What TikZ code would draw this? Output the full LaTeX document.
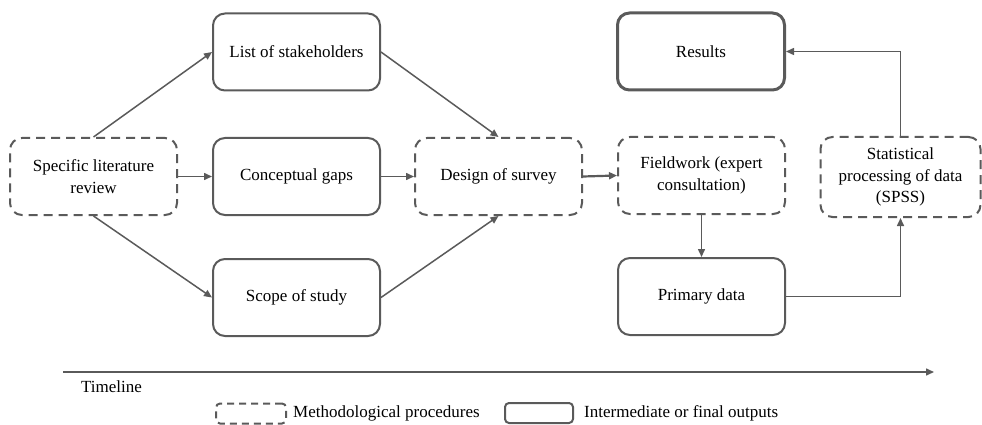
\documentclass[tikz,border=0pt]{standalone}
\usepackage{fontspec}
\setmainfont{Liberation Serif}
\usetikzlibrary{arrows.meta}
\definecolor{lc}{HTML}{5A5A5A}
\begin{document}
\begin{tikzpicture}[x=1pt,y=-1pt,
  font=\rmfamily\fontsize{17}{21.5}\selectfont,
  box/.style={draw=lc, line width=2pt, rounded corners=12pt, minimum width=167pt,
    minimum height=77pt, align=center, inner sep=2pt, text=black,
    font=\rmfamily\fontsize{17}{21.5}\selectfont},
  proc/.style={box, dash pattern=on 9pt off 6pt},
  outbox/.style={box},
  conn/.style={draw=lc, line width=1.5pt, -{Triangle[length=8pt,width=7pt]}},
  lbl/.style={anchor=west, inner sep=0pt, text=black},
]
\useasboundingbox (0,0) rectangle (982,425);
% nodes
\node[proc] (lit) at (93.5,176.5) {Specific literature\\review};
\node[outbox] (list) at (296.5,52) {List of stakeholders};
\node[outbox] (gaps) at (296.5,176.5) {Conceptual gaps};
\node[outbox] (scope) at (296.5,297.5) {Scope of study};
\node[proc] (design) at (498.5,176.5) {Design of survey};
\node[outbox, line width=3pt] (results) at (701,51.5) {Results};
\node[proc] (field) at (701.5,175.5) {Fieldwork (expert\\consultation)};
\node[outbox] (primary) at (701.5,296.5) {Primary data};
\node[proc, minimum width=160pt, minimum height=80pt] (stat) at (900.5,177) {Statistical\\processing of data\\(SPSS)};
% connectors
\draw[conn] (lit.north) -- (list.west);
\draw[conn] (lit.east) -- (gaps.west);
\draw[conn] (lit.south) -- (scope.west);
\draw[conn] (list.east) -- (design.north);
\draw[conn] (gaps.east) -- (design.west);
\draw[conn] (scope.east) -- (design.south);
\draw[conn, line width=2.2pt] (design.east) -- (field.west);
\draw[conn] (field.south) -- (primary.north);
\draw[conn] (primary.east) -| (stat.south);
\draw[conn] (stat.north) |- (results.east);
% timeline
\coordinate (t0) at (63,372);
\coordinate (t1) at (934,372);
\draw[conn] (t0) -- (t1);
\node[lbl] (tl) at (81,387) {Timeline};
% legend
\node[draw=lc, line width=2pt, rounded corners=4pt, dash pattern=on 7pt off 5pt,
  minimum width=70pt, minimum height=20pt, inner sep=0pt] (lg1) at (251,413.5) {};
\node[lbl] (lt1) at ([xshift=6pt]lg1.east) {Methodological procedures};
\node[draw=lc, line width=2pt, rounded corners=4pt,
  minimum width=68pt, minimum height=20pt, inner sep=0pt] (lg2) at (539,413) {};
\node[lbl] (lt2) at ([xshift=10pt]lg2.east) {Intermediate or final outputs};
\end{tikzpicture}
\end{document}
